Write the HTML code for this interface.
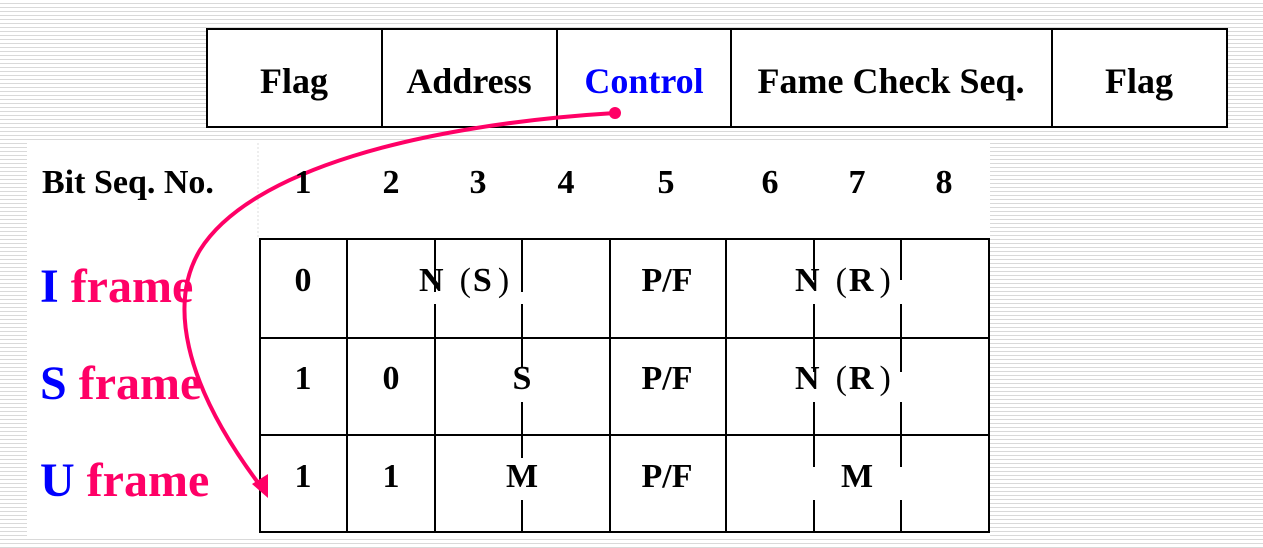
<!DOCTYPE html>
<html><head><meta charset="utf-8"><style>
html,body{margin:0;padding:0}
body{width:1263px;height:548px;position:relative;overflow:hidden;background:#fff repeating-linear-gradient(to bottom,#fff 0,#fff 3px,#d9d9d9 3px,#d9d9d9 4px);font-family:"Liberation Serif","Noto Serif CJK SC",serif;font-weight:bold}
.t{position:absolute;white-space:nowrap;line-height:1}
.c{position:absolute;white-space:nowrap;line-height:1;width:200px;text-align:center}
.h{font-size:36px;top:63px}
.b{font-size:34px;top:166px}
.f{font-size:48px;color:#ff0066}
.x{font-size:34px}
.p{font-weight:normal}
</style></head><body>
<div style="position:absolute;left:27px;top:143px;width:963px;height:394px;background:#fff"></div>
<svg width="1263" height="548" style="position:absolute;left:0;top:0" xmlns="http://www.w3.org/2000/svg">
<g stroke="#000" stroke-width="2" fill="none">
<rect x="207" y="29" width="1020" height="98" fill="#fff"/>
<line x1="382" y1="29" x2="382" y2="127"/><line x1="557" y1="29" x2="557" y2="127"/>
<line x1="731" y1="29" x2="731" y2="127"/><line x1="1052" y1="29" x2="1052" y2="127"/>
<rect x="260" y="239" width="729" height="293"/>
<line x1="260" y1="338" x2="989" y2="338"/><line x1="260" y1="435" x2="989" y2="435"/>
<line x1="347" y1="239" x2="347" y2="532"/><line x1="610" y1="239" x2="610" y2="532"/><line x1="726" y1="239" x2="726" y2="532"/>
<line x1="435" y1="239" x2="435" y2="292"/><line x1="435" y1="304" x2="435" y2="532"/>
<line x1="522" y1="239" x2="522" y2="292"/><line x1="522" y1="304" x2="522" y2="368"/><line x1="522" y1="402" x2="522" y2="458"/><line x1="522" y1="500" x2="522" y2="532"/>
<line x1="814" y1="239" x2="814" y2="280"/><line x1="814" y1="304" x2="814" y2="372"/><line x1="814" y1="402" x2="814" y2="467"/><line x1="814" y1="500" x2="814" y2="532"/>
<line x1="901" y1="239" x2="901" y2="280"/><line x1="901" y1="304" x2="901" y2="372"/><line x1="901" y1="402" x2="901" y2="467"/><line x1="901" y1="500" x2="901" y2="532"/>
</g>
<line x1="258" y1="143" x2="258" y2="238" stroke="#ddd" stroke-width="1" stroke-dasharray="2,2"/>
<path d="M615,113 C420,125 250,170 200,250 C170,300 180,380 262,488" stroke="#ff0066" stroke-width="4" fill="none"/>
<circle cx="615" cy="113" r="6" fill="#ff0066"/>
<polygon points="268,498 252,484 268,474" fill="#ff0066"/>
</svg>
<div class="c h" style="left:194px">Flag</div>
<div class="c h" style="left:369px">Address</div>
<div class="c h" style="left:544px;color:#0000ff">Control</div>
<div class="c h" style="left:691px;width:400px">Fame Check Seq.</div>
<div class="c h" style="left:1039px">Flag</div>
<div class="t b" style="left:42px">Bit Seq. No.</div>
<div class="c b" style="left:203px">1</div>
<div class="c b" style="left:291px">2</div>
<div class="c b" style="left:378px">3</div>
<div class="c b" style="left:466px">4</div>
<div class="c b" style="left:566px">5</div>
<div class="c b" style="left:670px">6</div>
<div class="c b" style="left:757px">7</div>
<div class="c b" style="left:844px">8</div>
<div class="t f" style="left:40px;top:263px"><span style="color:#0000ff">I</span> frame</div>
<div class="t f" style="left:40px;top:360px"><span style="color:#0000ff">S</span> frame</div>
<div class="t f" style="left:40px;top:457px"><span style="color:#0000ff">U</span> frame</div>
<div class="c x" style="left:203px;top:264px">0</div>
<div class="t x" style="left:419px;top:264px">N<span class="p" style="margin-left:16px;margin-right:2px">(</span>S<span class="p" style="margin-left:6px">)</span></div>
<div class="c x" style="left:567px;top:264px">P/F</div>
<div class="t x" style="left:795px;top:264px">N<span class="p" style="margin-left:16px;margin-right:2px">(</span>R<span class="p" style="margin-left:6px">)</span></div>
<div class="c x" style="left:203px;top:362px">1</div>
<div class="c x" style="left:291px;top:362px">0</div>
<div class="c x" style="left:422px;top:362px">S</div>
<div class="c x" style="left:567px;top:362px">P/F</div>
<div class="t x" style="left:795px;top:362px">N<span class="p" style="margin-left:16px;margin-right:2px">(</span>R<span class="p" style="margin-left:6px">)</span></div>
<div class="c x" style="left:203px;top:460px">1</div>
<div class="c x" style="left:291px;top:460px">1</div>
<div class="c x" style="left:422px;top:460px">M</div>
<div class="c x" style="left:567px;top:460px">P/F</div>
<div class="c x" style="left:757px;top:460px">M</div>
</body></html>
